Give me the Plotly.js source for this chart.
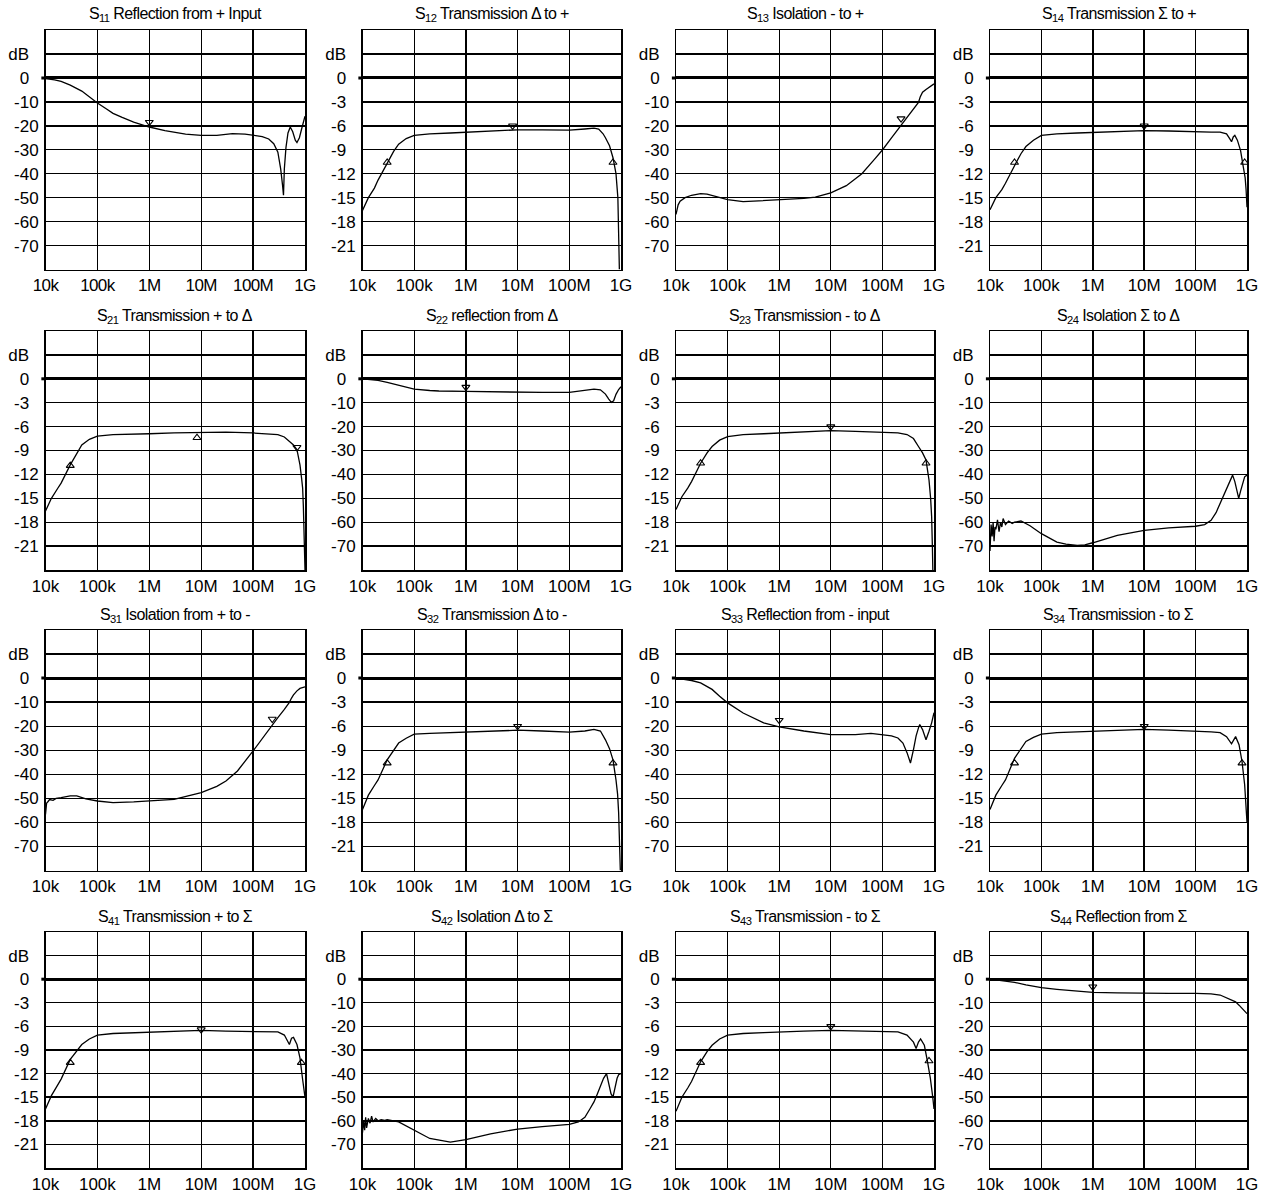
<!DOCTYPE html>
<html><head><meta charset="utf-8">
<script src="https://cdn.plot.ly/plotly-3.0.1.min.js"></script>
<style>
html,body{margin:0;padding:0;background:#fff;}
#chart{width:1266px;height:1195px;}
.xtick text{ letter-spacing:-0.6px; }
.annotation-text{ letter-spacing:-0.6px; }
</style></head><body><div id="chart"></div>
<script>
// ---------- axis tick definitions ----------
const freqTicks = [1e4, 1e5, 1e6, 1e7, 1e8, 1e9];
const freqLabels = ['10k', '100k', '1M', '10M', '100M', '1G'];
const wideTicks = [10, 0, -10, -20, -30, -40, -50, -60, -70];
const wideLabels = ['dB\u2007', '0\u2007', '-10', '-20', '-30', '-40', '-50', '-60', '-70'];
const fineTicks = [3, 0, -3, -6, -9, -12, -15, -18, -21];
const fineLabels = ['dB\u2007', '0\u2007', '-3\u2007', '-6\u2007', '-9\u2007', '-12', '-15', '-18', '-21'];

// ---------- titles ----------
const titles = [
  'S<sub>11</sub> Reflection from + Input', 'S<sub>12</sub> Transmission Δ to +', 'S<sub>13</sub> Isolation - to +', 'S<sub>14</sub> Transmission Σ to +',
  'S<sub>21</sub> Transmission + to Δ', 'S<sub>22</sub> reflection from Δ', 'S<sub>23</sub> Transmission - to Δ', 'S<sub>24</sub> Isolation Σ to Δ',
  'S<sub>31</sub> Isolation from + to -', 'S<sub>32</sub> Transmission Δ to -', 'S<sub>33</sub> Reflection from - input', 'S<sub>34</sub> Transmission - to Σ',
  'S<sub>41</sub> Transmission + to Σ', 'S<sub>42</sub> Isolation Δ to Σ', 'S<sub>43</sub> Transmission - to Σ', 'S<sub>44</sub> Reflection from Σ'
];
// scale per panel: 'wide' = 10 dB/div, 'fine' = 3 dB/div
const scales = ['wide','fine','wide','fine','fine','wide','fine','wide','wide','fine','wide','fine','fine','wide','fine','wide'];

// ---------- curve data (frequency in Hz, value in dB) ----------
const s11_f  = [1e4,1.5e4,2e4,3e4,5e4,7e4,1e5,1.5e5,2e5,3e5,5e5,1e6,2e6,5e6,1e7,2e7,4e7,7e7,1e8,1.5e8,2e8,2.5e8,3e8,3.4e8,3.7e8,3.85e8,4e8,4.3e8,4.7e8,5.2e8,5.8e8,6.5e8,7e8,7.8e8,8.8e8,1e9];
const s11_db = [-0.3,-0.8,-1.5,-3,-5.5,-8,-10.5,-13,-14.8,-16.5,-18.5,-20.5,-22,-23.5,-24,-24,-23.3,-23.5,-24,-24.5,-25.5,-27.5,-31,-38,-45,-49,-38,-29,-23,-20.5,-22.5,-26,-27,-25,-20.5,-16];
const s12_f  = [1e4,1.3e4,1.7e4,2e4,3e4,4e4,5e4,7e4,1e5,2e5,5e5,1e6,3e6,1e7,3e7,1e8,2e8,3e8,3.7e8,4.5e8,5e8,6e8,7e8,8e8,8.7e8,9.1e8,9.3e8];
const s12_db = [-16.6,-15,-13.8,-12.8,-10.7,-9.2,-8.3,-7.6,-7.2,-7.0,-6.9,-6.8,-6.6,-6.5,-6.5,-6.55,-6.4,-6.3,-6.4,-7.0,-7.5,-8.5,-10,-12,-15,-20,-24];
const s13_f  = [1e4,1.1e4,1.2e4,1.5e4,2e4,3e4,4e4,6e4,8e4,1e5,2e5,5e5,1e6,3e6,5e6,1e7,2e7,4e7,7e7,1e8,1.5e8,2.3e8,3e8,4e8,4.6e8,5e8,5.4e8,6e8,7e8,8e8,9e8,1e9];
const s13_db = [-57,-53,-51.5,-50,-49,-48.3,-48.5,-49.5,-50.3,-50.8,-51.7,-51.3,-51,-50.3,-49.8,-48,-45,-40,-34,-30.1,-25,-19.7,-16.5,-13,-11,-10.2,-8,-6,-4.8,-3.8,-3,-2.5];
const s14_f  = [1e4,1.3e4,1.7e4,2e4,3e4,4e4,5e4,7e4,1e5,2e5,5e5,1e6,3e6,1e7,3e7,1e8,2e8,3e8,4e8,4.6e8,5e8,5.4e8,5.8e8,6.5e8,7.5e8,8.5e8,9.2e8,9.6e8,1e9];
const s14_db = [-16.5,-15,-14,-13.2,-11,-9.5,-8.6,-7.8,-7.2,-7.0,-6.9,-6.85,-6.7,-6.6,-6.65,-6.8,-6.8,-6.8,-7.0,-7.6,-8.0,-7.4,-7.2,-7.8,-9.1,-11.2,-12.5,-14,-16.2];
const s21_f  = [1e4,1.3e4,1.7e4,2e4,3e4,4e4,5e4,7e4,1e5,2e5,5e5,1e6,3e6,1e7,3e7,1e8,2e8,3e8,4e8,5e8,6e8,7e8,8e8,8.6e8,9e8,9.3e8,9.6e8,1e9];
const s21_db = [-16.6,-15,-13.8,-13.1,-10.8,-9.3,-8.3,-7.6,-7.2,-7.0,-6.9,-6.9,-6.8,-6.7,-6.7,-6.8,-6.9,-7.0,-7.3,-7.8,-8.3,-8.9,-10.8,-12.5,-13.7,-16,-20,-24];
const s22_f  = [1e4,2e4,3e4,5e4,1e5,2e5,3e5,1e6,3e6,1e7,3e7,1e8,2e8,3e8,4e8,5e8,5.8e8,6.5e8,7.2e8,8e8,9e8,1e9];
const s22_db = [0,-0.7,-1.5,-2.8,-4.3,-4.9,-5.1,-5.3,-5.5,-5.7,-5.7,-5.7,-5.0,-4.3,-4.6,-6.4,-8.5,-9.9,-9.2,-6.5,-4.5,-3.3];
const s23_f  = [1e4,1.3e4,1.7e4,2e4,3e4,4e4,5e4,7e4,1e5,2e5,5e5,1e6,3e6,1e7,3e7,1e8,2e8,3e8,4e8,5e8,6e8,7e8,8e8,8.6e8,9e8,9.3e8,9.5e8];
const s23_db = [-16.4,-14.8,-13.7,-12.9,-10.6,-9.3,-8.5,-7.7,-7.25,-7.0,-6.9,-6.8,-6.7,-6.5,-6.6,-6.75,-6.8,-7.0,-7.5,-8.5,-9.3,-10.2,-12.7,-15,-17.3,-21,-24];
const s24_f  = [1e4,1.05e4,1.1e4,1.15e4,1.2e4,1.25e4,1.3e4,1.4e4,1.5e4,1.6e4,1.7e4,1.8e4,2e4,2.3e4,2.7e4,3e4,4e4,6e4,1e5,2e5,3e5,5e5,7e5,1e6,3e6,1e7,3e7,1e8,1.5e8,2e8,2.5e8,3e8,3.5e8,4e8,4.5e8,5.25e8,5.8e8,6.4e8,6.9e8,7.5e8,8.3e8,9e8,1e9];
const s24_db = [-72,-61,-66,-60,-68,-62,-63,-59,-64,-60,-62,-58.5,-61,-59.5,-60.5,-60,-59.5,-61.5,-64.8,-68.3,-69.2,-69.7,-69.5,-68.6,-65.5,-63.4,-62.4,-61.7,-61,-59.2,-56,-52.2,-49.5,-46.6,-43.5,-40.3,-43,-47.5,-50,-47,-43,-41,-40.3];
const s31_f  = [1e4,1.05e4,1.1e4,1.2e4,1.4e4,1.6e4,2e4,3e4,4e4,6e4,1e5,2e5,5e5,1e6,3e6,1e7,2e7,3e7,5e7,1e8,2e8,3e8,4e8,5e8,5.5e8,6e8,7e8,8e8,1e9];
const s31_db = [-56.7,-52,-51.5,-50.5,-50.8,-50,-49.7,-49,-49,-50.2,-51.1,-51.8,-51.5,-51.1,-50.4,-47.6,-45,-42.8,-38.6,-30.3,-21.3,-16.4,-13,-10.1,-8.3,-7.0,-5.3,-4.3,-3.6];
const s32_f  = [1e4,1.3e4,1.7e4,2e4,3e4,4e4,5e4,7e4,1e5,2e5,5e5,1e6,3e6,1e7,3e7,1e8,2e8,3e8,4e8,5e8,6e8,7e8,8e8,8.6e8,9e8,9.4e8,9.7e8];
const s32_db = [-16.4,-14.6,-13.4,-12.7,-10.2,-9,-8.1,-7.5,-7.0,-6.9,-6.8,-6.75,-6.6,-6.5,-6.6,-6.75,-6.6,-6.4,-6.6,-7.7,-8.8,-10.2,-12.7,-14.5,-16.8,-20,-24];
const s33_f  = [1e4,2e4,3e4,5e4,7e4,1e5,2e5,5e5,1e6,3e6,1e7,3e7,6e7,1e8,1.5e8,2e8,2.5e8,3e8,3.5e8,4e8,4.5e8,5e8,5.3e8,6e8,7e8,8e8,9e8,1e9];
const s33_db = [0,-1,-2,-4.7,-7.5,-10.3,-14.5,-18.6,-20.3,-22,-23.5,-23.5,-23,-23.5,-24,-24.9,-27,-31,-35.3,-29.7,-24,-20.7,-19.3,-21.4,-25.6,-22.1,-18.6,-14.4];
const s34_f  = [1e4,1.3e4,1.7e4,2e4,3e4,4e4,5e4,7e4,1e5,2e5,5e5,1e6,3e6,1e7,3e7,1e8,2e8,3e8,4e8,5e8,5.5e8,6e8,7e8,8e8,9e8,9.5e8,1e9];
const s34_db = [-16.4,-14.6,-13.4,-12.7,-10,-8.8,-7.9,-7.4,-7.0,-6.8,-6.7,-6.6,-6.5,-6.4,-6.5,-6.6,-6.7,-6.8,-7.3,-8.2,-7.7,-7.3,-8.3,-10.4,-13.3,-16.6,-18];
const s41_f  = [1e4,1.3e4,1.7e4,2e4,3e4,4e4,5e4,7e4,1e5,2e5,5e5,1e6,3e6,1e7,3e7,1e8,2e8,3e8,4e8,5e8,5.5e8,6e8,7e8,8e8,9e8,9.5e8,1e9];
const s41_db = [-16.5,-14.8,-13.5,-12.7,-10.2,-9.1,-8.3,-7.6,-7.1,-6.9,-6.8,-6.7,-6.6,-6.5,-6.6,-6.7,-6.7,-6.7,-7.1,-8.3,-7.5,-7.4,-8.3,-10,-12.75,-14,-15];
const s42_f  = [1e4,1.05e4,1.1e4,1.15e4,1.2e4,1.3e4,1.4e4,1.5e4,1.6e4,1.8e4,2e4,2.3e4,2.7e4,3e4,5e4,1e5,2e5,5e5,1e6,3e6,1e7,3e7,1e8,1.5e8,2e8,2.5e8,3e8,3.5e8,4e8,4.6e8,5.25e8,5.8e8,6.4e8,7e8,7.6e8,8.4e8,9e8,1e9];
const s42_db = [-65,-60,-64,-58.5,-63,-59,-61,-58,-60.5,-59,-60,-59.5,-59.8,-59.5,-60.5,-64,-67.5,-69,-68,-65.5,-63.5,-62.5,-61.5,-60.5,-58.5,-55,-52,-48.5,-45,-42,-40,-44,-48.5,-50,-46,-42,-40.5,-40];
const s43_f  = [1e4,1.3e4,1.7e4,2e4,3e4,4e4,5e4,7e4,1e5,2e5,5e5,1e6,3e6,1e7,3e7,1e8,2e8,3e8,4e8,4.5e8,5e8,5.5e8,6.5e8,7.5e8,8.5e8,9.5e8,1e9];
const s43_db = [-16.8,-15,-13.8,-13,-10.5,-9.2,-8.4,-7.6,-7.1,-6.9,-6.8,-6.7,-6.6,-6.5,-6.6,-6.7,-6.7,-7.1,-8.0,-8.8,-8.0,-7.6,-8.4,-10.5,-12.6,-15.1,-16.5];
const s44_f  = [1e4,2e4,3e4,5e4,1e5,2e5,3e5,1e6,3e6,1e7,3e7,1e8,2e8,3e8,4e8,4.5e8,5e8,6e8,7e8,8e8,9e8,1e9];
const s44_db = [0,-0.7,-1.3,-2.4,-3.6,-4.3,-4.6,-5.6,-5.8,-6,-6,-6,-6.2,-6.7,-7.9,-8.3,-8.9,-9.6,-11,-12.4,-13.5,-14.6];

// ---------- marker data (frequency, dB, pointing direction) ----------
const s11_mk_f = [1e6],            s11_mk_db = [-18.5],           s11_mk_dir = ['down'];
const s12_mk_f = [3e4,8e6,7e8],    s12_mk_db = [-10.6,-6.0,-10.6], s12_mk_dir = ['up','down','up'];
const s13_mk_f = [2.3e8],          s13_mk_db = [-17],             s13_mk_dir = ['down'];
const s14_mk_f = [3e4,1e7,9e8],    s14_mk_db = [-10.6,-6.0,-10.6], s14_mk_dir = ['up','down','up'];
const s21_mk_f = [3e4,8.3e6,7e8],  s21_mk_db = [-10.9,-7.4,-8.6],  s21_mk_dir = ['up','up','down'];
const s22_mk_f = [1e6],            s22_mk_db = [-3.5],            s22_mk_dir = ['down'];
const s23_mk_f = [3e4,1e7,7e8],    s23_mk_db = [-10.6,-6.0,-10.6], s23_mk_dir = ['up','down','up'];
const s24_mk_f = [],               s24_mk_db = [],                s24_mk_dir = [];
const s31_mk_f = [2.34e8],         s31_mk_db = [-17],             s31_mk_dir = ['down'];
const s32_mk_f = [3e4,1e7,7e8],    s32_mk_db = [-10.6,-6.0,-10.6], s32_mk_dir = ['up','down','up'];
const s33_mk_f = [1e6],            s33_mk_db = [-17.5],           s33_mk_dir = ['down'];
const s34_mk_f = [3e4,1e7,8e8],    s34_mk_db = [-10.6,-6.0,-10.6], s34_mk_dir = ['up','down','up'];
const s41_mk_f = [3e4,1e7,8.5e8],  s41_mk_db = [-10.6,-6.4,-10.6], s41_mk_dir = ['up','down','up'];
const s42_mk_f = [],               s42_mk_db = [],                s42_mk_dir = [];
const s43_mk_f = [3e4,1e7,8e8],    s43_mk_db = [-10.6,-6.0,-10.4], s43_mk_dir = ['up','down','up'];
const s44_mk_f = [1e6],            s44_mk_db = [-3.2],            s44_mk_dir = ['down'];

const curves = [
  [s11_f,s11_db,s11_mk_f,s11_mk_db,s11_mk_dir],[s12_f,s12_db,s12_mk_f,s12_mk_db,s12_mk_dir],
  [s13_f,s13_db,s13_mk_f,s13_mk_db,s13_mk_dir],[s14_f,s14_db,s14_mk_f,s14_mk_db,s14_mk_dir],
  [s21_f,s21_db,s21_mk_f,s21_mk_db,s21_mk_dir],[s22_f,s22_db,s22_mk_f,s22_mk_db,s22_mk_dir],
  [s23_f,s23_db,s23_mk_f,s23_mk_db,s23_mk_dir],[s24_f,s24_db,s24_mk_f,s24_mk_db,s24_mk_dir],
  [s31_f,s31_db,s31_mk_f,s31_mk_db,s31_mk_dir],[s32_f,s32_db,s32_mk_f,s32_mk_db,s32_mk_dir],
  [s33_f,s33_db,s33_mk_f,s33_mk_db,s33_mk_dir],[s34_f,s34_db,s34_mk_f,s34_mk_db,s34_mk_dir],
  [s41_f,s41_db,s41_mk_f,s41_mk_db,s41_mk_dir],[s42_f,s42_db,s42_mk_f,s42_mk_db,s42_mk_dir],
  [s43_f,s43_db,s43_mk_f,s43_mk_db,s43_mk_dir],[s44_f,s44_db,s44_mk_f,s44_mk_db,s44_mk_dir]
];

// ---------- layout geometry (pixels) ----------
const W = 1266, H = 1195;
const colPx = [[45.5,305],[362.5,621],[676,934],[990,1247]];
const rowPx = [[30,269.5],[331,570],[630,870.5],[932,1168]];
const FONT = 'Liberation Sans, Arial, Helvetica, sans-serif';

const data = [];
const layout = {
  width: W, height: H, margin: {l:0, r:0, t:0, b:0},
  paper_bgcolor: '#fff', plot_bgcolor: '#fff', showlegend: false,
  font: {family: FONT, color: '#000'}, annotations: [], shapes: []
};

for (let i = 0; i < 16; i++) {
  const r = Math.floor(i / 4), c = i % 4, n = i + 1;
  const xs = n === 1 ? '' : String(n);
  const [x0, x1] = colPx[c], [y0, y1] = rowPx[r];
  const wide = scales[i] === 'wide';
  const [f, db, mf, mdb, mdir] = curves[i];

  data.push({x: f, y: db, xaxis: 'x' + xs, yaxis: 'y' + xs, type: 'scatter', mode: 'lines',
    line: {color: '#000', width: 1.3}, hoverinfo: 'skip'});
  if (mf.length) {
    data.push({x: mf, y: mdb, xaxis: 'x' + xs, yaxis: 'y' + xs, type: 'scatter', mode: 'markers',
      marker: {symbol: mdir.map(d => d === 'up' ? 'triangle-up-open' : 'triangle-down-open'),
               size: 7, color: '#000', line: {color: '#000', width: 1.1}}, hoverinfo: 'skip'});
  }

  layout['xaxis' + xs] = {
    type: 'log', range: [4, 9], domain: [x0 / W, x1 / W], anchor: 'y' + xs,
    tickmode: 'array', tickvals: freqTicks, ticktext: freqLabels, ticks: '',
    showgrid: true, gridcolor: '#000', gridwidth: 1.4, zeroline: false,
    showline: true, mirror: true, linecolor: '#000', linewidth: 1.5,
    tickfont: {family: FONT, size: 17, color: '#000'}, fixedrange: true
  };
  layout['yaxis' + xs] = {
    range: wide ? [-80, 20] : [-24, 6], domain: [1 - y1 / H, 1 - y0 / H], anchor: 'x' + xs,
    tickmode: 'array', tickvals: wide ? wideTicks : fineTicks, ticktext: wide ? wideLabels : fineLabels,
    ticks: '', ticklabelstandoff: 2,
    showgrid: true, gridcolor: '#000', gridwidth: 1.4,
    zeroline: true, zerolinecolor: '#000', zerolinewidth: 3,
    showline: true, mirror: true, linecolor: '#000', linewidth: 1.5,
    tickfont: {family: FONT, size: 17, color: '#000'}, fixedrange: true
  };
  // short stub of the 0 dB line sticking out to the left of the frame
  layout.shapes.push({type: 'line', xref: 'x' + xs + ' domain', yref: 'y' + xs,
    x0: -0.016, x1: 0, y0: 0, y1: 0, line: {color: '#000', width: 3}});
  layout.annotations.push({
    text: titles[i], xref: 'paper', yref: 'paper', showarrow: false,
    x: (x0 + x1) / 2 / W, y: 1 - (y0 - 15) / H, xanchor: 'center', yanchor: 'middle',
    font: {family: FONT, size: 16, color: '#000'}
  });
}

Plotly.newPlot('chart', data, layout, {displayModeBar: false, staticPlot: true});
</script></body></html>
